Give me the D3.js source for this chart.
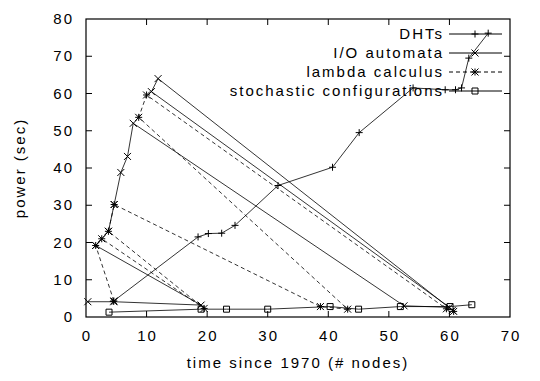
<!DOCTYPE html>
<html>
<head>
<meta charset="utf-8">
<script src="https://cdn.jsdelivr.net/npm/d3@7"></script>
<style>
  body { margin: 0; background: #fff; }
  text { font-family: "Liberation Sans", Arial, sans-serif; font-size: 15px; letter-spacing: 2px; fill: #000; }
</style>
</head>
<body>
<div class="chart"></div>
<script>
// series values (unsorted, as plotted)
var dhtsX = [4.5, 18.5, 20.2, 22.4, 24.6, 31.7, 40.7, 45.1, 54, 59.3, 61, 62, 63.2, 66.4];
var dhtsY = [4.2, 21.5, 22.4, 22.5, 24.6, 35.3, 40.2, 49.5, 61.5, 61, 61, 61.5, 69.5, 76.2];

var ioX = [0.3, 4.6, 19, 1.6, 3.7, 4.65, 5.75, 6.85, 7.8, 52.5, 60, 10.8, 11.9, 60.5];
var ioY = [4.1, 4.1, 3.2, 19.2, 23, 30.2, 38.8, 43.1, 52, 3, 2.6, 60.5, 64, 1.8];

var lambdaX = [4.6, 1.6, 2.6, 19.5, 3.7, 4.65, 38.7, 43.2, 8.7, 10, 59.5, 60.7];
var lambdaY = [4.3, 19.2, 21, 2.3, 23, 30.2, 2.8, 2.1, 53.6, 59.6, 2.2, 1.5];

var stochX = [3.8, 19, 23.2, 30, 40.3, 45, 51.9, 60.1, 63.7];
var stochY = [1.3, 2.1, 2.1, 2.1, 2.8, 2.1, 2.8, 2.8, 3.3];

var seriesNames = ["DHTs", "I/O automata", "lambda calculus", "stochastic configurations"];
var xTicks = [0, 10, 20, 30, 40, 50, 60, 70];
var yTicks = [0, 10, 20, 30, 40, 50, 60, 70, 80];

var width = 540, height = 381;
var margin = { top: 19, right: 30, bottom: 64, left: 86 };

var x = d3.scaleLinear().domain([0, 70]).range([margin.left, width - margin.right]);
var y = d3.scaleLinear().domain([0, 80]).range([height - margin.bottom, margin.top]);

var svg = d3.select(".chart").append("svg")
    .attr("width", width)
    .attr("height", height);

function zip(xs, ys) {
    return xs.map(function(v, i) { return [v, ys[i]]; });
}

var series = [
    { name: seriesNames[0], pts: zip(dhtsX, dhtsY), dash: null, mark: "plus" },
    { name: seriesNames[1], pts: zip(ioX, ioY), dash: null, mark: "times" },
    { name: seriesNames[2], pts: zip(lambdaX, lambdaY), dash: "4,3", mark: "star" },
    { name: seriesNames[3], pts: zip(stochX, stochY), dash: null, mark: "square" }
];

// marker shapes, gnuplot style
function markPath(type, cx, cy) {
    var r = 3.5;
    if (type == "plus") return "M" + (cx - r) + "," + cy + "H" + (cx + r) + "M" + cx + "," + (cy - r) + "V" + (cy + r);
    if (type == "times") return "M" + (cx - r) + "," + (cy - r) + "L" + (cx + r) + "," + (cy + r) +
        "M" + (cx - r) + "," + (cy + r) + "L" + (cx + r) + "," + (cy - r);
    if (type == "star") return markPath("plus", cx, cy) + markPath("times", cx, cy);
    return "M" + (cx - 3) + "," + (cy - 3) + "h6v6h-6z";
}

// axis ticks, inside on all four sides
var ticks = svg.append("g").attr("stroke", "#000").attr("stroke-width", 1);
xTicks.slice(1, -1).forEach(function(t) {
    ticks.append("line").attr("x1", x(t)).attr("x2", x(t)).attr("y1", y(0)).attr("y2", y(0) - 6);
    ticks.append("line").attr("x1", x(t)).attr("x2", x(t)).attr("y1", y(80)).attr("y2", y(80) + 6);
});
yTicks.slice(1, -1).forEach(function(t) {
    ticks.append("line").attr("x1", x(0)).attr("x2", x(0) + 6).attr("y1", y(t)).attr("y2", y(t));
    ticks.append("line").attr("x1", x(70)).attr("x2", x(70) - 6).attr("y1", y(t)).attr("y2", y(t));
});

svg.append("g").selectAll("text")
    .data(xTicks)
    .enter().append("text")
    .attr("x", function(d) { return x(d) + 1; })
    .attr("y", y(0) + 24)
    .attr("text-anchor", "middle")
    .text(function(d) { return d; });

svg.append("g").selectAll("text")
    .data(yTicks)
    .enter().append("text")
    .attr("x", x(0) - 12)
    .attr("y", function(d) { return y(d) + 5; })
    .attr("text-anchor", "end")
    .text(function(d) { return d; });

svg.append("text")
    .attr("x", (x(0) + x(70)) / 2)
    .attr("y", 368)
    .attr("text-anchor", "middle")
    .text("time since 1970 (# nodes)");

svg.append("text")
    .attr("transform", "translate(25," + ((y(0) + y(80)) / 2) + ") rotate(-90)")
    .attr("text-anchor", "middle")
    .text("power (sec)");

var line = d3.line()
    .x(function(d) { return x(d[0]); })
    .y(function(d) { return y(d[1]); });

var plot = svg.append("g");
series.forEach(function(s) {
    plot.append("path")
        .attr("d", line(s.pts))
        .attr("fill", "none")
        .attr("stroke", "#000")
        .attr("stroke-width", 0.8)
        .attr("stroke-dasharray", s.dash);
    plot.append("g").selectAll("path")
        .data(s.pts)
        .enter().append("path")
        .attr("d", function(d) { return markPath(s.mark, x(d[0]), y(d[1])); })
        .attr("fill", "none")
        .attr("stroke", "#000")
        .attr("stroke-width", 1);
});

// key, top right
var key = svg.append("g");
series.forEach(function(s, i) {
    var ky = 34 + i * 19;
    key.append("text")
        .attr("x", 444)
        .attr("y", ky + 5)
        .attr("text-anchor", "end")
        .text(s.name);
    key.append("line")
        .attr("x1", 449).attr("x2", 502)
        .attr("y1", ky).attr("y2", ky)
        .attr("stroke", "#000")
        .attr("stroke-dasharray", s.dash);
    key.append("path")
        .attr("d", markPath(s.mark, 475, ky))
        .attr("fill", "none")
        .attr("stroke", "#000");
});

// frame
svg.append("rect")
    .attr("x", x(0)).attr("y", y(80))
    .attr("width", x(70) - x(0)).attr("height", y(0) - y(80))
    .attr("fill", "none")
    .attr("stroke", "#000")
    .attr("stroke-width", 1.2);
</script>
</body>
</html>
